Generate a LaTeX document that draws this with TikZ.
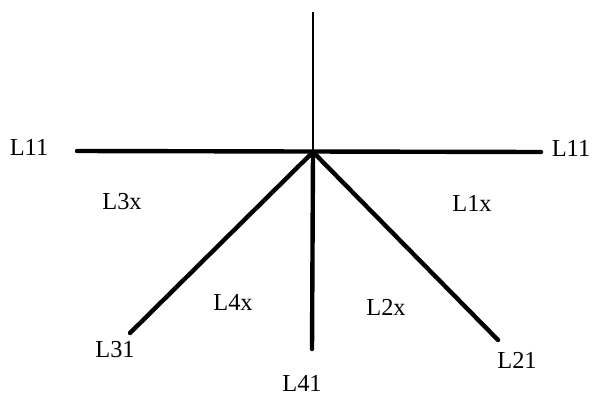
\documentclass[tikz,border=0pt]{standalone}
\usepackage{fontspec}
\setmainfont{Liberation Serif}
\usepackage{tikz}
\tikzset{
  arm/.style={line width=2.2pt,line cap=round},
  axis/.style={line width=0.7pt},
  lab/.style={font=\fontsize{12.2}{14}\selectfont,inner sep=0pt}
}

\begin{document}
\begin{tikzpicture}[x=0.5pt,y=-0.5pt]
\useasboundingbox (0,0) rectangle (597,396);
\coordinate (o) at (313,152);
\coordinate (top) at (313,12);
\coordinate (west) at (77,151);
\coordinate (east) at (541,152);
\coordinate (sw) at (130,333);
\coordinate (south) at (312,349);
\coordinate (se) at (498,340);
\draw[axis] (top) -- (o);
\draw[arm] (west) -- (east);
\foreach \e in {sw,south,se} {
  \draw[arm] (o) -- (\e);
}
\node[lab] (l11w) at (29,147) {L11};
\node[lab] (l11e) at (571,148) {L11};
\node[lab] (l3x) at (122,202) {L3x};
\node[lab] (l1x) at (472,203) {L1x};
\node[lab] (l4x) at (233,302) {L4x};
\node[lab] (l2x) at (386,307) {L2x};
\node[lab] (l31) at (115,350) {L31};
\node[lab] (l41) at (302,383) {L41};
\node[lab] (l21) at (517,360) {L21};
\end{tikzpicture}
\end{document}
